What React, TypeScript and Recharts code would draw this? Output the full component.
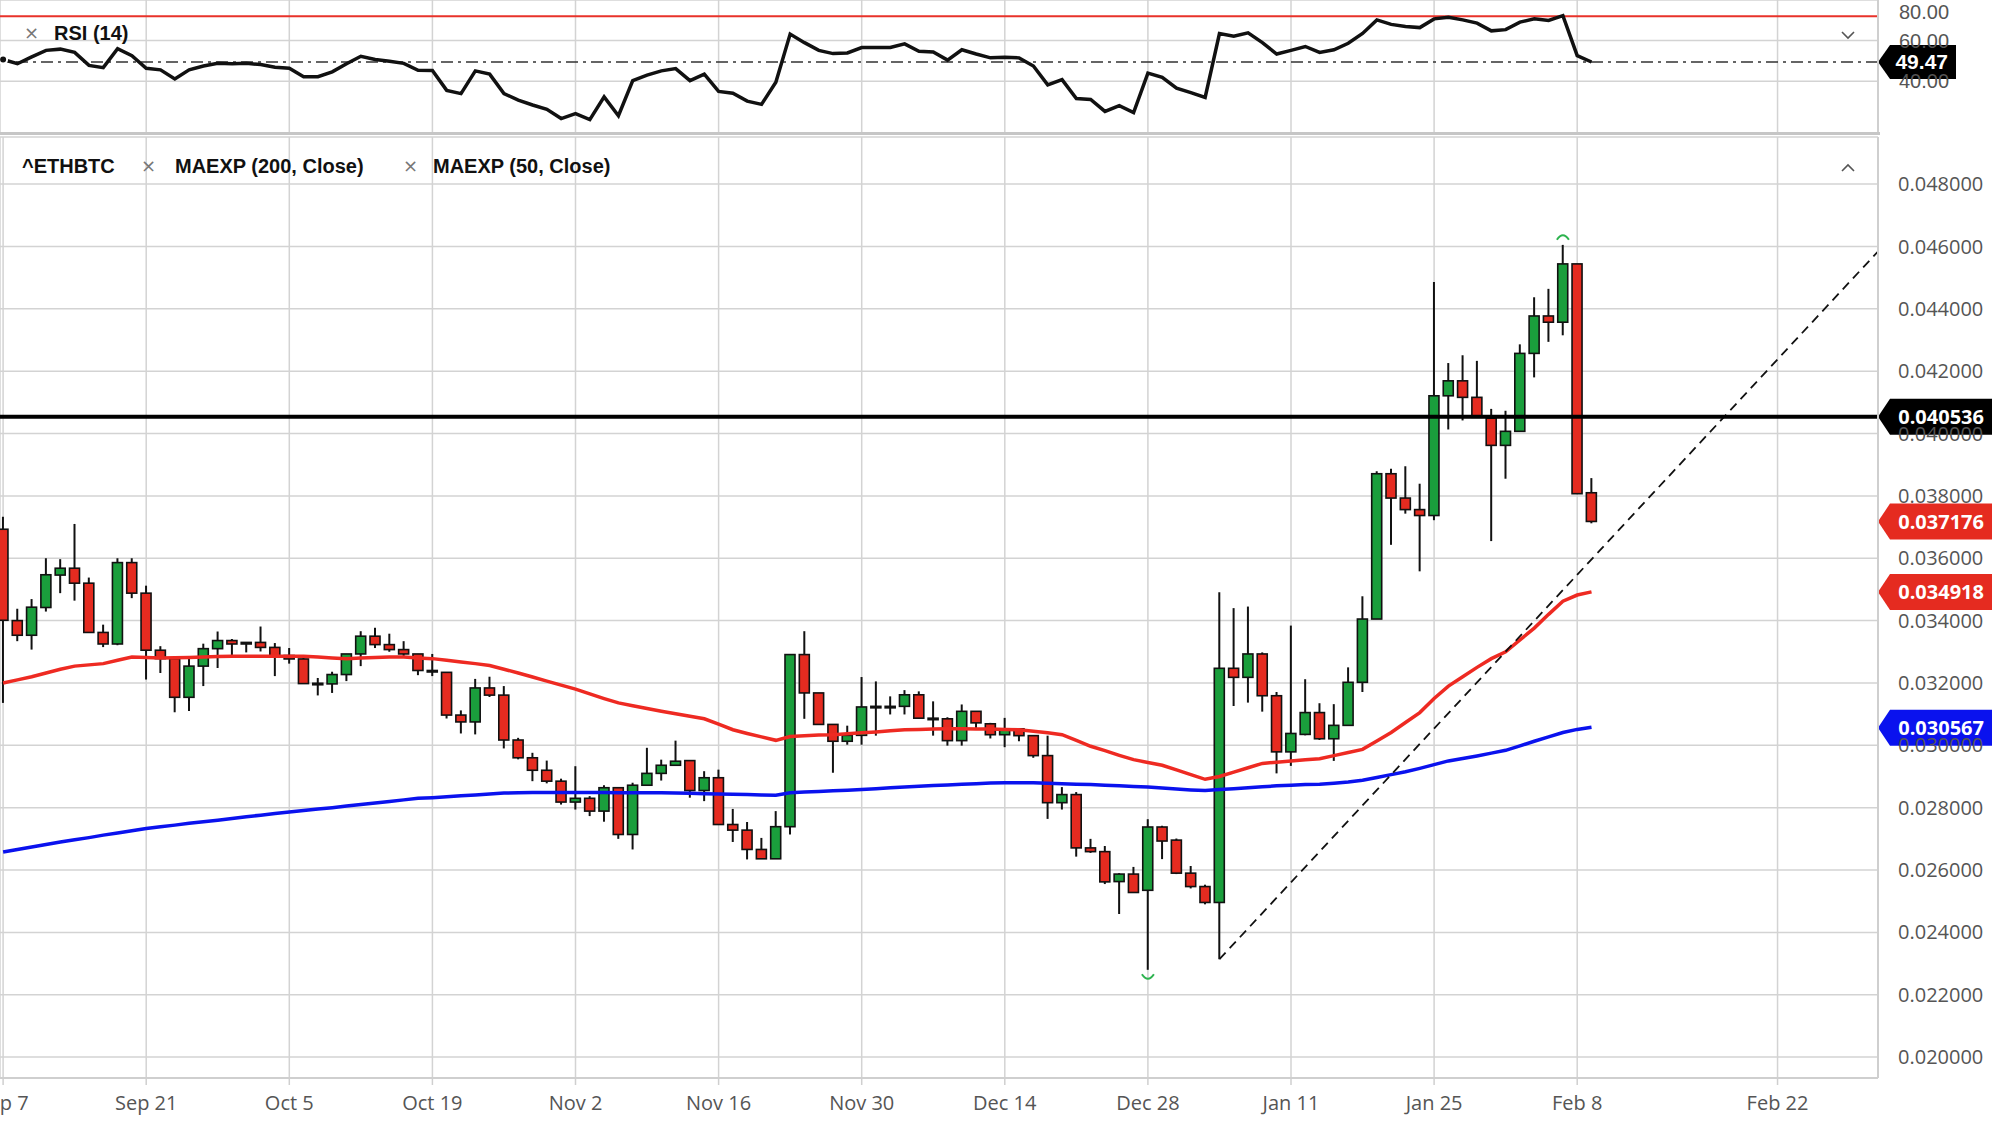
import React from 'react'
import {
  ComposedChart,
  Bar,
  Line,
  XAxis,
  YAxis,
  CartesianGrid,
  ReferenceLine,
  Scatter,
} from 'recharts'

// weekday bars, Sep 7 2020 .. Feb 9 2021 (index 0..111); future slots run on calendar days
const tickIdx = [0, 10, 20, 30, 40, 50, 60, 70, 80, 90, 100, 110, 124]
const tickLabels = ['Sep 7', 'Sep 21', 'Oct 5', 'Oct 19', 'Nov 2', 'Nov 16', 'Nov 30', 'Dec 14', 'Dec 28', 'Jan 11', 'Jan 25', 'Feb 8', 'Feb 22']
const priceTicks = [0.02, 0.022, 0.024, 0.026, 0.028, 0.03, 0.032, 0.034, 0.036, 0.038, 0.04, 0.042, 0.044, 0.046, 0.048]
const rsiTicks = [40, 60, 80]

const open = [
  0.03693, 0.034, 0.03353, 0.03442, 0.03546, 0.03568, 0.0352, 0.03362, 0.03325, 0.03586,
  0.03488, 0.03305, 0.03278, 0.03154, 0.03254, 0.0331, 0.03336, 0.0333, 0.0333, 0.03314,
  0.03288, 0.03277, 0.03199, 0.03197, 0.03227, 0.03293, 0.0335, 0.03323, 0.03307, 0.03293,
  0.0324, 0.03234, 0.03097, 0.03075, 0.03184, 0.03161, 0.03017, 0.0296, 0.0292, 0.02885,
  0.02818, 0.0283, 0.02789, 0.02864, 0.02714, 0.02872, 0.0291, 0.02936, 0.02951, 0.02855,
  0.02896, 0.02746, 0.02728, 0.02666, 0.02636, 0.02739, 0.03291, 0.03168, 0.03067, 0.03013,
  0.03032, 0.03123, 0.03125, 0.03125, 0.03162, 0.03087, 0.03085, 0.03015, 0.03109, 0.03069,
  0.03034, 0.03053, 0.03031, 0.02967, 0.02816, 0.02842, 0.02671, 0.02659, 0.02563, 0.02587,
  0.02535, 0.02738, 0.02696, 0.0259, 0.02547, 0.02496, 0.03247, 0.03218, 0.03293, 0.03159,
  0.02979, 0.03035, 0.03105, 0.03021, 0.03064, 0.03202, 0.03405, 0.03871, 0.03793, 0.03756,
  0.03737, 0.04121, 0.04169, 0.04116, 0.04049, 0.03962, 0.04007, 0.04257, 0.04377, 0.04357,
  0.04544, 0.0381,
]
const high = [
  0.03733, 0.03438, 0.03469, 0.036, 0.03597, 0.0371, 0.03538, 0.03387, 0.036, 0.036,
  0.03512, 0.03318, 0.03278, 0.03278, 0.03326, 0.03365, 0.03341, 0.0333, 0.03381, 0.03328,
  0.03312, 0.03289, 0.03216, 0.03236, 0.03293, 0.03366, 0.03377, 0.03358, 0.03334, 0.03293,
  0.03293, 0.03234, 0.03112, 0.03213, 0.0322, 0.0319, 0.03024, 0.02976, 0.02951, 0.02893,
  0.02933, 0.02837, 0.02872, 0.02864, 0.0288, 0.02992, 0.02954, 0.03015, 0.02951, 0.02917,
  0.02922, 0.02796, 0.02754, 0.02703, 0.02789, 0.03291, 0.03366, 0.03168, 0.03067, 0.03063,
  0.03219, 0.03205, 0.03157, 0.03177, 0.03173, 0.03141, 0.0309, 0.03131, 0.03109, 0.03072,
  0.03088, 0.03053, 0.03031, 0.03031, 0.02866, 0.0285, 0.027, 0.02677, 0.0259, 0.0261,
  0.02763, 0.02742, 0.02701, 0.02613, 0.02553, 0.03491, 0.0344, 0.03445, 0.03298, 0.03171,
  0.03384, 0.03212, 0.03135, 0.03132, 0.0325, 0.03478, 0.03879, 0.03887, 0.03895, 0.03839,
  0.04486, 0.04226, 0.04251, 0.04233, 0.04079, 0.04073, 0.04286, 0.04437, 0.04464, 0.04605,
  0.04544, 0.03857,
]
const low = [
  0.03136, 0.03334, 0.03307, 0.03429, 0.03488, 0.03464, 0.03362, 0.03315, 0.03321, 0.03472,
  0.03211, 0.03232, 0.03106, 0.0311, 0.0319, 0.03248, 0.03288, 0.03298, 0.03301, 0.03222,
  0.03262, 0.03198, 0.0316, 0.03168, 0.03206, 0.03254, 0.03312, 0.033, 0.0328, 0.03225,
  0.03222, 0.03086, 0.03038, 0.03035, 0.03155, 0.0299, 0.02955, 0.02885, 0.02878, 0.0281,
  0.02794, 0.02773, 0.02755, 0.027, 0.02666, 0.02872, 0.02887, 0.02936, 0.02832, 0.02821,
  0.02746, 0.0269, 0.02634, 0.02636, 0.02636, 0.02714, 0.03085, 0.03067, 0.02912, 0.03002,
  0.03002, 0.03031, 0.03099, 0.03099, 0.03087, 0.03031, 0.02999, 0.02999, 0.0305, 0.03022,
  0.02994, 0.03013, 0.0296, 0.02764, 0.02794, 0.02643, 0.02655, 0.02555, 0.02459, 0.02528,
  0.0228, 0.02635, 0.02587, 0.02541, 0.0249, 0.02314, 0.03126, 0.03137, 0.03108, 0.0291,
  0.02934, 0.03032, 0.03017, 0.0295, 0.03064, 0.03171, 0.03405, 0.03643, 0.03743, 0.03558,
  0.03722, 0.04013, 0.04042, 0.04052, 0.03655, 0.03855, 0.04007, 0.0418, 0.04294, 0.04315,
  0.03807, 0.03712,
]
const close = [
  0.03401, 0.03353, 0.03443, 0.03547, 0.03568, 0.0352, 0.03362, 0.03325, 0.03586, 0.03488,
  0.03305, 0.03278, 0.03154, 0.03254, 0.0331, 0.03336, 0.03325, 0.03325, 0.03314, 0.03286,
  0.03277, 0.03198, 0.03198, 0.03227, 0.03293, 0.0335, 0.03323, 0.03307, 0.03293, 0.0324,
  0.03238, 0.03097, 0.03075, 0.03184, 0.03161, 0.03017, 0.0296, 0.0292, 0.02885, 0.02818,
  0.0283, 0.02789, 0.02864, 0.02714, 0.02872, 0.0291, 0.02936, 0.02949, 0.02855, 0.02896,
  0.02746, 0.02728, 0.02666, 0.02636, 0.02739, 0.03291, 0.03168, 0.03067, 0.03013, 0.03032,
  0.03123, 0.03125, 0.03123, 0.03162, 0.03087, 0.03086, 0.03015, 0.03109, 0.03072, 0.03034,
  0.03053, 0.03031, 0.02967, 0.02816, 0.02842, 0.02671, 0.02659, 0.02562, 0.02587, 0.02528,
  0.02738, 0.02693, 0.0259, 0.02547, 0.02496, 0.03247, 0.03218, 0.03293, 0.03159, 0.02979,
  0.03038, 0.03105, 0.03021, 0.03064, 0.03202, 0.03405, 0.03871, 0.03793, 0.03756, 0.03737,
  0.04121, 0.04169, 0.04116, 0.04052, 0.03962, 0.04007, 0.04257, 0.04377, 0.04357, 0.04544,
  0.03807, 0.03718,
]
const ema50 = [
  0.032, 0.0321, 0.0322, 0.03232, 0.03244, 0.03254, 0.03258, 0.03262, 0.03273, 0.03283,
  0.03282, 0.0328, 0.03281, 0.03282, 0.03283, 0.03285, 0.03286, 0.03286, 0.03286, 0.03286,
  0.03286, 0.03286, 0.03283, 0.0328, 0.03278, 0.0328, 0.03282, 0.03283, 0.03283, 0.0328,
  0.03278, 0.03273, 0.03267, 0.03262, 0.03256, 0.03244, 0.03232, 0.03219, 0.03206, 0.03193,
  0.0318, 0.03165, 0.0315, 0.03136, 0.03127, 0.03118, 0.03109, 0.03101, 0.03093, 0.03085,
  0.03068, 0.0305, 0.03038, 0.03027, 0.03016, 0.03028, 0.03031, 0.03033, 0.03034, 0.03037,
  0.0304, 0.03043, 0.03047, 0.0305, 0.03051, 0.03052, 0.03053, 0.03053, 0.03052, 0.03052,
  0.03051, 0.0305, 0.03045, 0.0304, 0.03034, 0.03016, 0.02997, 0.02983, 0.02968, 0.02954,
  0.02945, 0.02936, 0.02921, 0.02906, 0.02891, 0.029, 0.02914, 0.02928, 0.02942, 0.02946,
  0.0295, 0.02954, 0.02957, 0.02967, 0.02977, 0.02987, 0.03014, 0.03041, 0.03073, 0.03105,
  0.0315, 0.0319, 0.0322, 0.0325, 0.03278, 0.033, 0.03338, 0.03376, 0.0342, 0.03462,
  0.03482, 0.03492,
]
const ema200 = [
  0.02658, 0.02666, 0.02674, 0.02682, 0.0269, 0.02697, 0.02704, 0.02712, 0.02719, 0.02726,
  0.02733, 0.02739, 0.02744, 0.0275, 0.02755, 0.0276, 0.02765, 0.02771, 0.02776, 0.02781,
  0.02786, 0.02791, 0.02796, 0.028, 0.02805, 0.0281, 0.02815, 0.0282, 0.02825, 0.0283,
  0.02832, 0.02835, 0.02838, 0.02841, 0.02844, 0.02847, 0.02848, 0.02849, 0.02849, 0.02849,
  0.02849, 0.02849, 0.02849, 0.02848, 0.02848, 0.02848, 0.02848, 0.02847, 0.02846, 0.02845,
  0.02844, 0.02843, 0.02842, 0.02841, 0.0284, 0.02848, 0.0285, 0.02852, 0.02854, 0.02856,
  0.02858, 0.02861, 0.02864, 0.02866, 0.02869, 0.02871, 0.02873, 0.02875, 0.02877, 0.02879,
  0.0288, 0.0288, 0.0288, 0.02878, 0.02877, 0.02875, 0.02874, 0.02872, 0.0287, 0.02868,
  0.02866, 0.02863, 0.0286, 0.02857, 0.02855, 0.02858, 0.02861, 0.02864, 0.02867, 0.0287,
  0.02872, 0.02874, 0.02875, 0.02878, 0.02882, 0.02888, 0.02897, 0.02906, 0.02915, 0.02926,
  0.02938, 0.0295, 0.02958, 0.02966, 0.02975, 0.02984, 0.02998, 0.03013, 0.03027, 0.03041,
  0.03051, 0.03058,
]
const rsi14 = [
  50.7, 48.6, 52.0, 55.2, 55.8, 54.2, 47.8, 46.7, 56.0, 52.6,
  46.4, 45.6, 41.1, 45.6, 47.5, 48.8, 48.6, 48.8, 48.2, 46.9,
  46.4, 42.2, 42.2, 44.6, 48.6, 52.3, 50.7, 49.8, 48.8, 45.4,
  45.3, 35.5, 33.9, 45.1, 43.5, 33.9, 30.7, 28.3, 26.2, 21.6,
  24.0, 21.1, 32.3, 23.0, 40.3, 43.0, 45.1, 46.2, 40.3, 43.5,
  35.0, 34.1, 30.2, 28.6, 39.5, 63.2, 59.0, 55.2, 53.6, 53.9,
  56.6, 56.6, 56.6, 58.4, 54.7, 54.4, 50.4, 55.5, 53.4, 51.5,
  51.8, 51.5, 47.5, 38.2, 40.8, 31.5, 31.0, 25.1, 28.0, 24.6,
  44.0, 41.9, 36.6, 34.4, 32.0, 63.5, 62.2, 63.8, 59.0, 53.4,
  55.2, 57.1, 54.2, 55.5, 58.7, 63.5, 70.2, 68.0, 67.0, 66.4,
  70.7, 71.5, 70.2, 68.6, 64.8, 65.4, 69.1, 70.7, 69.9, 72.3,
  52.6, 49.47,
]

const levelLine = 0.040536
const lastClose = 0.037176
const lastEma50 = 0.034918
const lastEma200 = 0.030567
const lastRsi = 49.47
const rsiUpper = 72
const trendLine = [
  { i: 85, p: 0.02314 },
  { i: 131, p: 0.04583 },
]
const swings = [
  { i: 109, mark: 0.04631, kind: 'high' },
  { i: 80, mark: 0.02256, kind: 'low' },
]

const GREEN = '#1a9e3c'
const RED = '#e52b20'
const GRID = '#d3d3d3'
const X_DOMAIN = [-0.217, 131.02]

const rows = open.map((o, i) => ({
  i,
  open: o,
  high: high[i],
  low: low[i],
  close: close[i],
  range: [low[i], high[i]],
  ema50: ema50[i],
  ema200: ema200[i],
  rsi: rsi14[i],
}))

function Candle(props: any) {
  const { x, y, width, height, payload } = props
  if (!payload || x == null) return null
  const top = Math.min(y, y + height)
  const h = Math.abs(height)
  const k = h / (payload.high - payload.low)
  const py = (p: number) => top + (payload.high - p) * k
  const cx = x + width / 2
  const up = payload.close >= payload.open
  const bTop = py(Math.max(payload.open, payload.close))
  const bH = Math.max(py(Math.min(payload.open, payload.close)) - bTop, 1.5)
  return (
    <g>
      <line x1={cx} x2={cx} y1={top} y2={top + h} stroke="#111" strokeWidth={2} />
      <rect x={cx - 5} y={bTop} width={10} height={bH} fill={up ? GREEN : RED} stroke="#111" strokeWidth={1.6} />
    </g>
  )
}

function SwingMark(props: any) {
  const { cx, cy, payload } = props
  if (cx == null) return null
  const d = payload.kind === 'high'
    ? `M${cx - 6},${cy + 3} Q${cx},${cy - 6} ${cx + 6},${cy + 3}`
    : `M${cx - 6},${cy - 3} Q${cx},${cy + 6} ${cx + 6},${cy - 3}`
  return <path d={d} fill="none" stroke="#2db34f" strokeWidth={2} />
}

function PriceTag(props: any) {
  const { viewBox, text, fill, w = 114, h = 36, fontSize = 20, fontFamily = 'Open Sans' } = props
  if (!viewBox) return null
  const x0 = viewBox.x + viewBox.width
  const y0 = viewBox.y
  const pts = `${x0},${y0} ${x0 + 12},${y0 - h / 2} ${x0 + w},${y0 - h / 2} ${x0 + w},${y0 + h / 2} ${x0 + 12},${y0 + h / 2}`
  return (
    <g>
      <polygon points={pts} fill={fill} />
      <text x={x0 + w - 8} y={y0} textAnchor="end" dominantBaseline="central" fill="#fff" fontWeight={700} fontSize={fontSize} fontFamily={fontFamily}>
        {text}
      </text>
    </g>
  )
}

function Chevron({ x, y, up }: { x: number; y: number; up?: boolean }) {
  return (
    <svg style={{ position: 'absolute', left: x - 8, top: y - 5 }} width={16} height={10}>
      <polyline points={up ? '2,8 8,2 14,8' : '2,2 8,8 14,2'} fill="none" stroke="#555" strokeWidth={1.6} />
    </svg>
  )
}

const legendText: React.CSSProperties = {
  position: 'absolute',
  fontFamily: 'Liberation Sans, Arial, sans-serif',
  fontWeight: 700,
  fontSize: 20,
  color: '#111',
  lineHeight: '24px',
  whiteSpace: 'nowrap',
}
const crossText: React.CSSProperties = {
  position: 'absolute',
  fontFamily: 'DejaVu Sans, sans-serif',
  fontSize: 18,
  color: '#777',
  lineHeight: '24px',
}

export default function App() {
  return (
    <div style={{ position: 'absolute', left: 0, top: 0, width: 2000, height: 1131, background: '#fff', overflow: 'hidden' }}>
      {/* RSI pane */}
      <div style={{ position: 'absolute', left: 0, top: 0 }}>
        <ComposedChart width={2000} height={134} data={rows} margin={{ top: 0, right: 0, bottom: 0, left: 0 }}>
          <CartesianGrid stroke={GRID} strokeWidth={1.5} />
          <XAxis type="number" dataKey="i" domain={X_DOMAIN} ticks={tickIdx} allowDataOverflow hide />
          <YAxis
            orientation="right"
            width={122}
            domain={[14, 80]}
            ticks={rsiTicks}
            allowDataOverflow
            axisLine={{ stroke: '#cfcfcf', strokeWidth: 2 }}
            tickLine={false}
            tickSize={0}
            tickMargin={21}
            tickFormatter={(v: number) => v.toFixed(2)}
            tick={{ fill: '#555', fontSize: 20, fontFamily: 'Liberation Sans' }}
          />
          <ReferenceLine y={rsiUpper} stroke="#e8322a" strokeWidth={2} />
          <ReferenceLine
            y={lastRsi}
            stroke="#333"
            strokeWidth={1.5}
            strokeDasharray="12 5 3 5"
            label={<PriceTag text={lastRsi.toFixed(2)} fill="#000" w={78} h={34} fontSize={21} fontFamily="Liberation Sans" />}
          />
          <Line type="linear" dataKey="rsi" stroke="#111" strokeWidth={3.5} dot={false} isAnimationActive={false} />
        </ComposedChart>
      </div>

      {/* price pane */}
      <div style={{ position: 'absolute', left: 0, top: 134 }}>
        <ComposedChart width={2000} height={997} data={rows} margin={{ top: 3, right: 0, bottom: 0, left: 0 }}>
          <CartesianGrid stroke={GRID} strokeWidth={1.5} />
          <XAxis
            type="number"
            dataKey="i"
            domain={X_DOMAIN}
            ticks={tickIdx}
            interval={0}
            allowDataOverflow
            height={53}
            tickFormatter={(v: number) => tickLabels[tickIdx.indexOf(v)]}
            axisLine={{ stroke: '#cfcfcf', strokeWidth: 2 }}
            tickLine={{ stroke: '#cfcfcf', strokeWidth: 1.5 }}
            tickSize={7}
            tickMargin={11}
            tick={{ fill: '#555', fontSize: 20, fontFamily: 'Open Sans' }}
          />
          <YAxis
            orientation="right"
            width={122}
            domain={[0.01933, 0.04951]}
            ticks={priceTicks}
            allowDataOverflow
            axisLine={{ stroke: '#cfcfcf', strokeWidth: 2 }}
            tickLine={false}
            tickSize={0}
            tickMargin={20}
            tickFormatter={(v: number) => v.toFixed(6)}
            tick={{ fill: '#555', fontSize: 20, fontFamily: 'Open Sans' }}
          />
          <Line type="linear" dataKey="ema200" stroke="#0a12ee" strokeWidth={3.5} dot={false} isAnimationActive={false} />
          <Line type="linear" dataKey="ema50" stroke="#ee2a22" strokeWidth={3.5} dot={false} isAnimationActive={false} />
          <Bar dataKey="range" barSize={10} shape={<Candle />} isAnimationActive={false} />
          <Scatter data={swings} dataKey="mark" shape={<SwingMark />} isAnimationActive={false} />
          <ReferenceLine
            segment={[
              { x: trendLine[0].i, y: trendLine[0].p },
              { x: trendLine[1].i, y: trendLine[1].p },
            ]}
            stroke="#111"
            strokeWidth={1.8}
            strokeDasharray="9 6"
          />
          <ReferenceLine y={levelLine} stroke="#000" strokeWidth={4} label={<PriceTag text={levelLine.toFixed(6)} fill="#000" />} />
          <ReferenceLine y={lastClose} stroke="none" label={<PriceTag text={lastClose.toFixed(6)} fill={RED} />} />
          <ReferenceLine y={lastEma50} stroke="none" label={<PriceTag text={lastEma50.toFixed(6)} fill={RED} />} />
          <ReferenceLine y={lastEma200} stroke="none" label={<PriceTag text={lastEma200.toFixed(6)} fill="#0a12ee" />} />
        </ComposedChart>
      </div>

      {/* pane separator */}
      <div style={{ position: 'absolute', left: 0, top: 132, width: 1880, height: 3, background: '#c6c6c6' }} />

      {/* legends */}
      <div style={{ ...crossText, left: 24, top: 21 }}>×</div>
      <div style={{ ...legendText, left: 54, top: 21 }}>RSI (14)</div>
      <div style={{ ...legendText, left: 22, top: 154 }}>^ETHBTC</div>
      <div style={{ ...crossText, left: 141, top: 154 }}>×</div>
      <div style={{ ...legendText, left: 175, top: 154 }}>MAEXP (200, Close)</div>
      <div style={{ ...crossText, left: 403, top: 154 }}>×</div>
      <div style={{ ...legendText, left: 433, top: 154 }}>MAEXP (50, Close)</div>
      <Chevron x={1848} y={35} />
      <Chevron x={1848} y={168} up />
    </div>
  )
}
